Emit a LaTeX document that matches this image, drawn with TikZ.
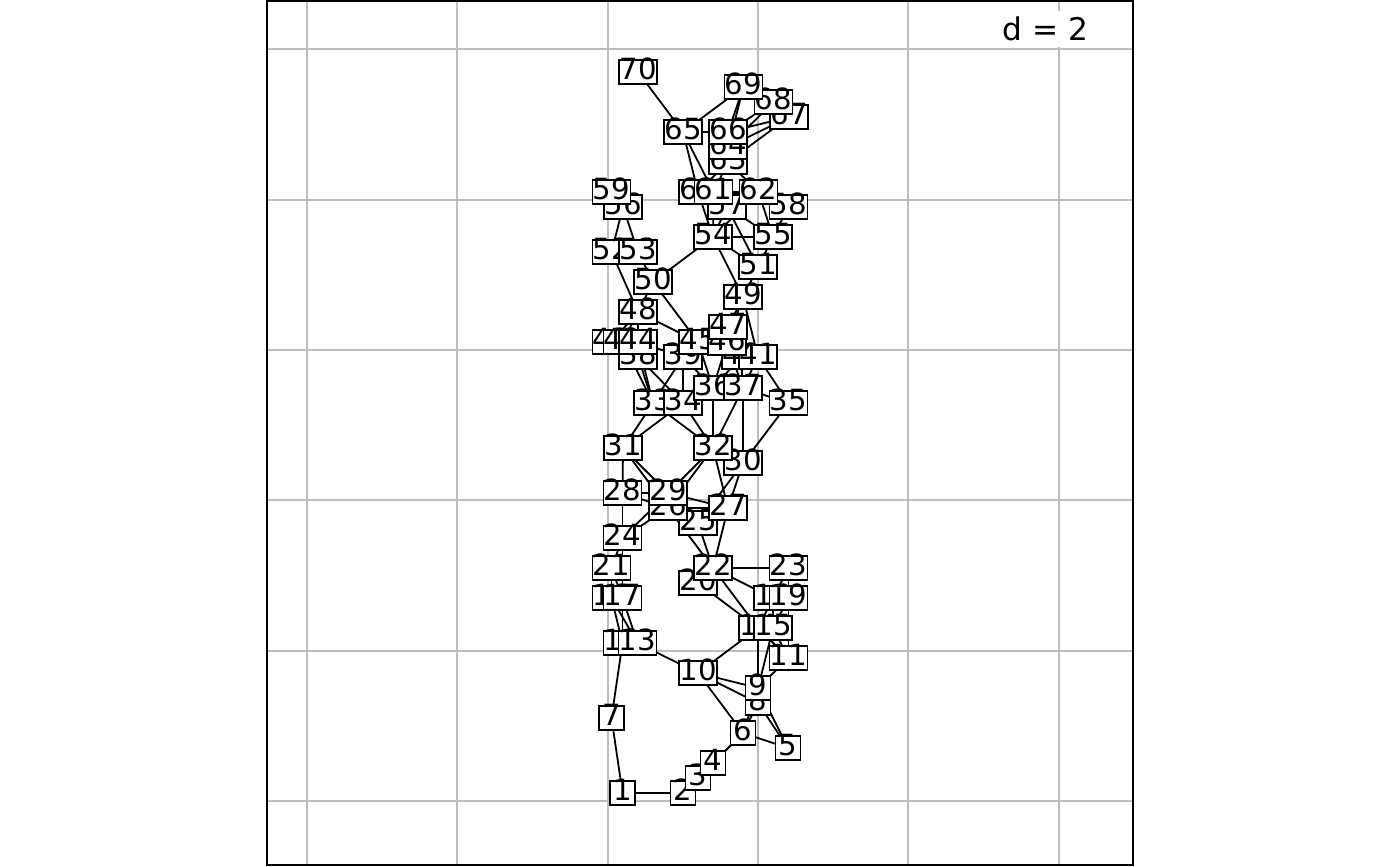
\documentclass[tikz,border=0pt]{standalone}
\usepackage{fontspec}
\newfontfamily\lbf{DejaVu Sans}
\pgfdeclarelayer{gridlayer}
\pgfdeclarelayer{edgelayer}
\pgfsetlayers{gridlayer,edgelayer,main}
\definecolor{gridgray}{HTML}{BEBEBE}
\tikzset{
  lab/.style={draw=black, fill=white, line width=0.85pt, inner sep=0pt,
    minimum height=12pt, text height=0.729em, text depth=0pt,
    font=\lbf\fontsize{14.6pt}{14.6pt}\selectfont},
  one/.style={lab, minimum width=12.5pt},
  two/.style={lab, minimum width=19pt},
  edge/.style={line width=0.9pt, black},
  gridline/.style={line width=1pt, gridgray}
}
\begin{document}
\begin{tikzpicture}[x=0.5pt,y=-0.5pt]
\useasboundingbox (0,0) rectangle (1400,866);
% grid
\begin{pgfonlayer}{gridlayer}
\fill[white] (0,0) rectangle (1400,866);
\foreach \gx in {306.8,457.2,607.6,758,908.4,1058.8}
  \draw[gridline] (\gx,0) -- (\gx,866);
\foreach \gy in {49.2,199.6,350,500.4,650.8,801.2}
  \draw[gridline] (267,\gy) -- (1133,\gy);
\end{pgfonlayer}
% labels
\node[one] (n1) at (622.5,793) {1};
\node[one] (n2) at (683,793) {2};
\node[one] (n3) at (698,778) {3};
\node[one] (n4) at (713,763) {4};
\node[one] (n5) at (788,748) {5};
\node[one] (n6) at (743,733) {6};
\node[one] (n7) at (611.5,718) {7};
\node[one] (n8) at (758,703) {8};
\node[one] (n9) at (758,688) {9};
\node[two] (n10) at (698,673) {10};
\node[two] (n11) at (788.5,658) {11};
\node[two] (n12) at (622.5,643) {12};
\node[two] (n13) at (637.5,643) {13};
\node[two] (n14) at (758,628) {14};
\node[two] (n15) at (773,628) {15};
\node[two] (n16) at (611.5,598) {16};
\node[two] (n17) at (622.5,598) {17};
\node[two] (n18) at (773,598) {18};
\node[two] (n19) at (788.5,598) {19};
\node[two] (n20) at (698,583) {20};
\node[two] (n21) at (611.5,568) {21};
\node[two] (n22) at (713,568) {22};
\node[two] (n23) at (788.5,568) {23};
\node[two] (n24) at (622.5,538) {24};
\node[two] (n25) at (698,523) {25};
\node[two] (n26) at (668,508) {26};
\node[two] (n27) at (728,508) {27};
\node[two] (n28) at (622.5,493) {28};
\node[two] (n29) at (668,493) {29};
\node[two] (n30) at (743,463) {30};
\node[two] (n31) at (623,448) {31};
\node[two] (n32) at (713,448) {32};
\node[two] (n33) at (653,403) {33};
\node[two] (n34) at (683,403) {34};
\node[two] (n35) at (788.5,403) {35};
\node[two] (n36) at (713,388) {36};
\node[two] (n37) at (743,388) {37};
\node[two] (n38) at (638,357) {38};
\node[two] (n39) at (683,357) {39};
\node[two] (n40) at (741,357) {40};
\node[two] (n41) at (758,357) {41};
\node[two] (n42) at (611.5,342) {42};
\node[two] (n43) at (622.5,342) {43};
\node[two] (n44) at (638,342) {44};
\node[two] (n45) at (698,342) {45};
\node[two] (n46) at (727,343) {46};
\node[two] (n47) at (728,327) {47};
\node[two] (n48) at (638,312) {48};
\node[two] (n49) at (743,297) {49};
\node[two] (n50) at (653,282) {50};
\node[two] (n51) at (758,267) {51};
\node[two] (n52) at (611.5,252) {52};
\node[two] (n53) at (638,252) {53};
\node[two] (n54) at (713,237) {54};
\node[two] (n55) at (773,237) {55};
\node[two] (n56) at (623,207) {56};
\node[two] (n57) at (727,207) {57};
\node[two] (n58) at (788.5,207) {58};
\node[two] (n59) at (611.5,192) {59};
\node[two] (n60) at (698,192) {60};
\node[two] (n61) at (713.5,192) {61};
\node[two] (n62) at (758.5,192) {62};
\node[two] (n63) at (728,162) {63};
\node[two] (n64) at (728,147) {64};
\node[two] (n65) at (683,132) {65};
\node[two] (n66) at (728,132) {66};
\node[two] (n67) at (789,117) {67};
\node[two] (n68) at (773.5,102) {68};
\node[two] (n69) at (743.5,87) {69};
\node[two] (n70) at (638,72) {70};
% edges
\begin{pgfonlayer}{edgelayer}
\foreach \a/\b in {1/2,1/7,2/3,3/4,4/6,3/6,6/8,6/9,5/6,5/8,5/9,6/10,9/10,8/10,10/13,10/14,9/14,9/15,9/11,11/15,11/14,11/19,7/12,
14/18,15/18,15/19,18/23,19/23,18/22,14/22,14/20,22/23,
12/16,12/17,13/17,13/16,16/21,17/21,21/24,17/24,
20/22,22/25,22/26,22/27,
24/28,24/29,24/26,28/29,28/26,28/31,29/31,26/31,29/32,26/32,27/32,27/29,26/27,25/27,25/26,27/30,25/30,30/35,30/37,32/36,32/37,31/33,31/34,32/33,32/34,
33/38,33/43,33/44,33/39,34/38,34/39,34/36,36/39,36/45,36/46,36/40,37/40,37/41,37/46,35/41,35/37,36/37,
39/44,38/44,43/44,42/43,42/48,43/48,44/48,45/48,45/50,48/50,48/52,50/53,52/53,52/56,53/56,56/59,
45/46,46/47,46/49,47/49,41/49,40/41,39/45,
49/51,49/54,50/54,51/54,51/55,54/55,54/60,54/61,54/57,54/62,51/57,55/62,55/58,55/57,58/62,57/62,60/61,61/62,60/63,61/63,62/63,63/64,64/66,65/66,60/65,61/65,65/70,65/69,66/69,64/69,66/67,66/68,64/67,64/68,63/67,67/68,68/69}
  \draw[edge] (n\a.center) -- (n\b.center);
\end{pgfonlayer}
% frame and scale label
\draw[line width=0.8pt] (267,0.8) rectangle (1133,865.2);
\node[fill=white, inner xsep=4pt, inner ysep=3pt, font=\lbf\fontsize{15.6pt}{15.6pt}\selectfont] (dlab) at (1045.5,29) {d = 2};
\end{tikzpicture}
\end{document}
